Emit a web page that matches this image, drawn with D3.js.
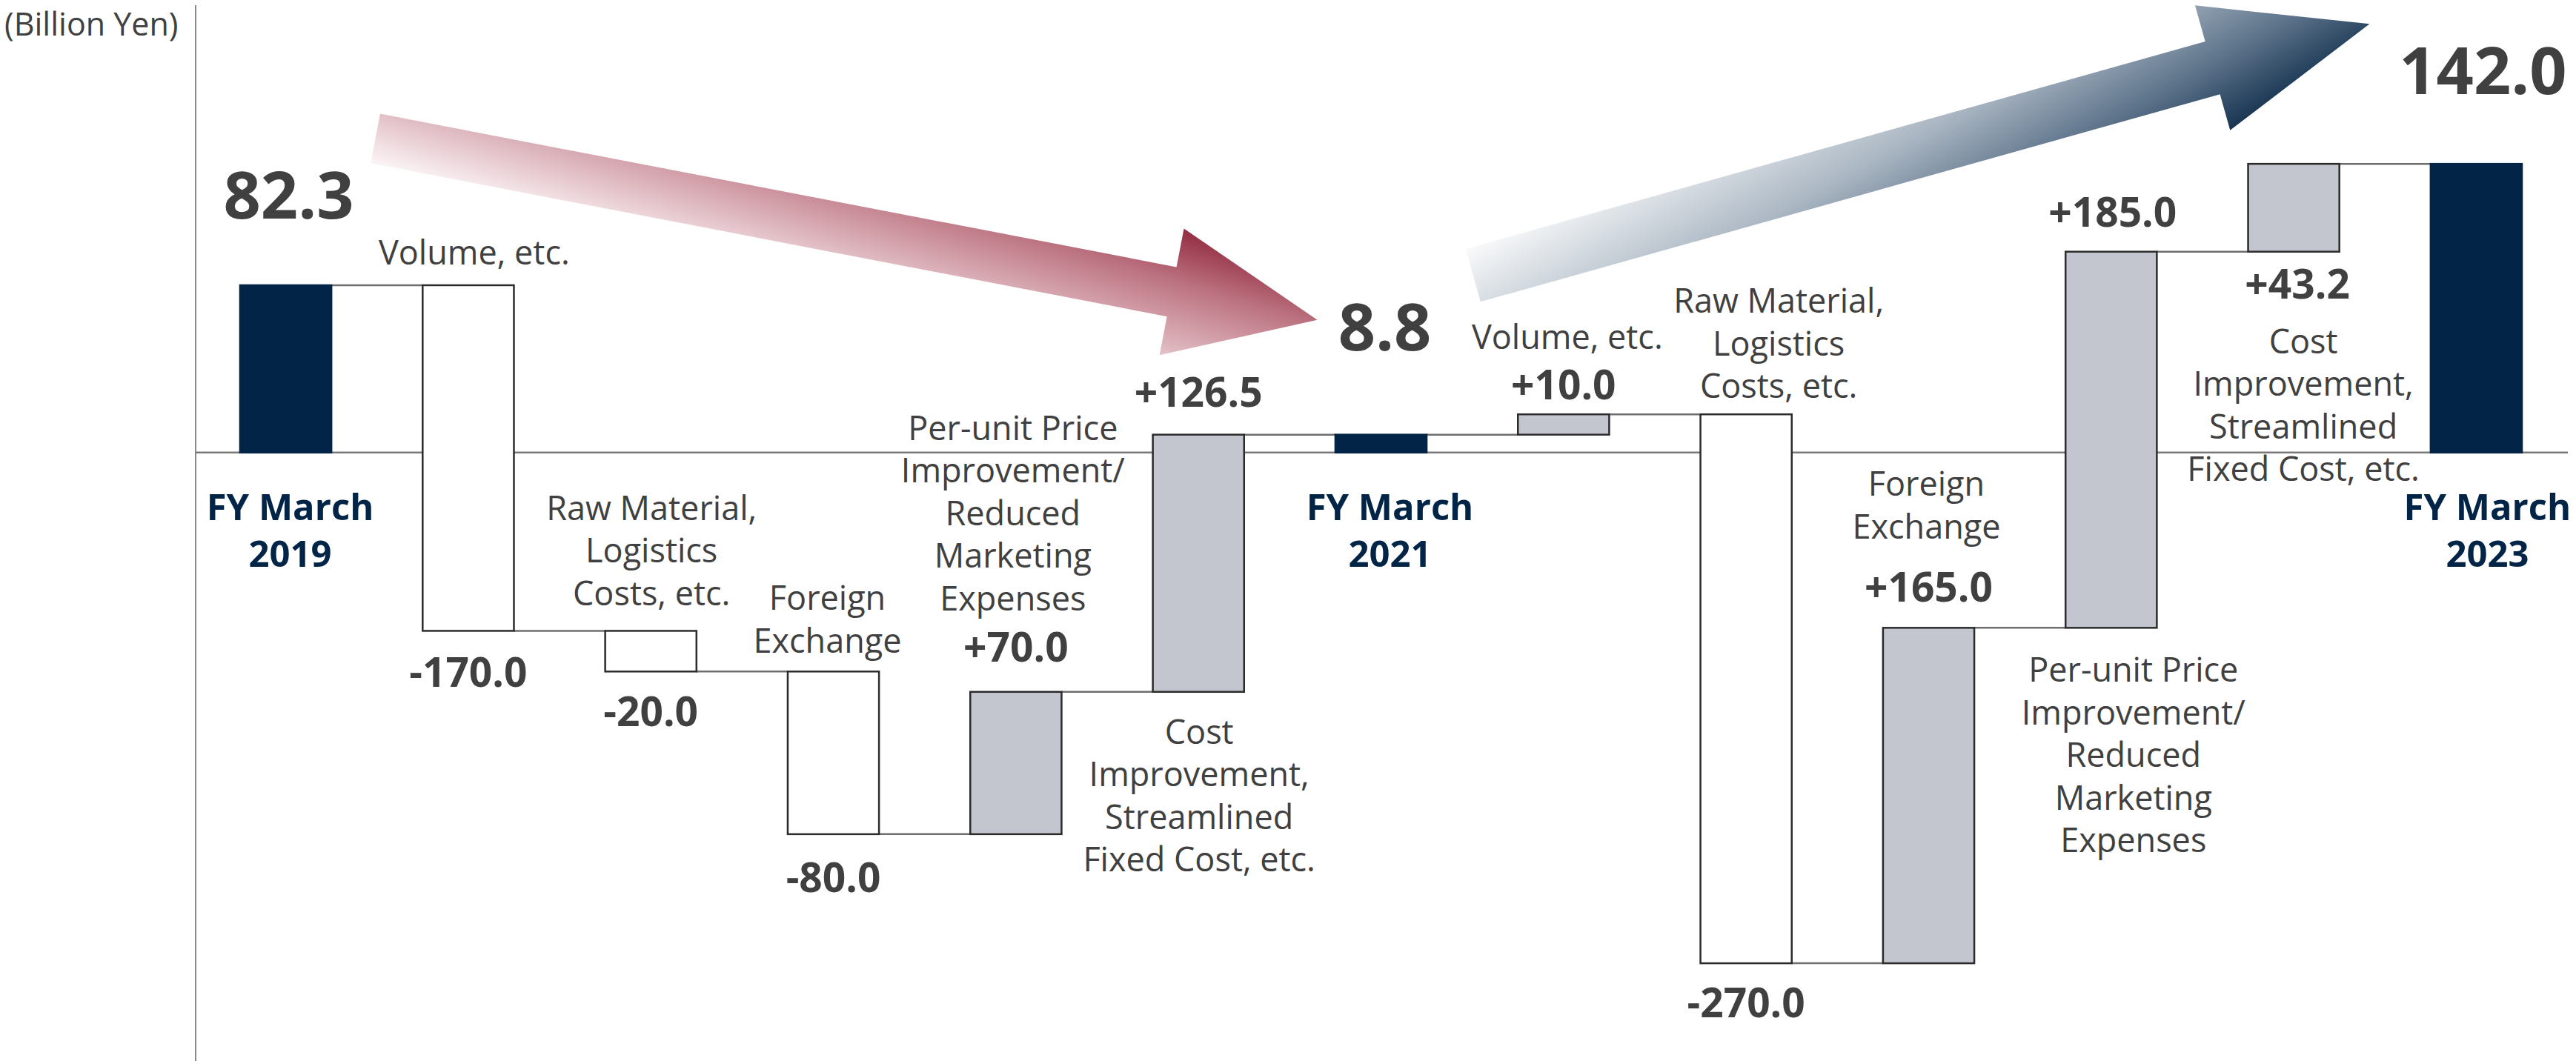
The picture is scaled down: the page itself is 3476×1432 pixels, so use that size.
<!DOCTYPE html>
<html>
<head>
<meta charset="utf-8">
<script src="https://cdn.jsdelivr.net/npm/d3@7"></script>
<style>
  body { margin: 0; background: #fff; }
  svg { display: block; font-family: "Open Sans", sans-serif; }
</style>
</head>
<body>
<div id="chart"></div>
<script>
// data
var steps = ["FY2019", "Volume1", "Raw1", "FX1", "Price1", "Cost1", "FY2021",
             "Volume2", "Raw2", "FX2", "Price2", "Cost2", "FY2023"];
var kinds = ["total", "delta", "delta", "delta", "delta", "delta", "total",
             "delta", "delta", "delta", "delta", "delta", "total"];
var values = [82.3, -170.0, -20.0, -80.0, 70.0, 126.5, 8.8,
              10.0, -270.0, 165.0, 185.0, 43.2, 142.0];
var nameLines = [
  ["FY March", "2019"],
  ["Volume, etc."],
  ["Raw Material,", "Logistics", "Costs, etc."],
  ["Foreign", "Exchange"],
  ["Per-unit Price", "Improvement/", "Reduced", "Marketing", "Expenses"],
  ["Cost", "Improvement,", "Streamlined", "Fixed Cost, etc."],
  ["FY March", "2021"],
  ["Volume, etc."],
  ["Raw Material,", "Logistics", "Costs, etc."],
  ["Foreign", "Exchange"],
  ["Per-unit Price", "Improvement/", "Reduced", "Marketing", "Expenses"],
  ["Cost", "Improvement,", "Streamlined", "Fixed Cost, etc."],
  ["FY March", "2023"]
];
var unitLabel = "(Billion Yen)";

// label layout: reference edge of the bar, offset to first baseline, x shift
var valueLayout = [
  ["top", -90, 4], ["bottom", 76, 0], ["bottom", 74, 0], ["bottom", 78, 0],
  ["top", -41, 0], ["top", -38, 0], ["top", -114, 5], ["top", -20, 0],
  ["bottom", 73, 0], ["top", -35, 0], ["top", -34, 2], ["bottom", 63, 5],
  ["top", -94, 9]
];
var nameLayout = [
  ["zero", 91, 6], ["top", -28, 8], ["top", -149.5, 1], ["top", -83, -8],
  ["top", -340, -4], ["bottom", 70, 1], ["zero", 91, 12], ["top", -88, 5],
  ["top", -137, 44], ["top", -178, -3], ["bottom", 73, 30], ["bottom", 137, 13],
  ["zero", 91, 15]
];

var width = 3476, height = 1432;
var navy = "#022446", gray = "#c3c6cf", ink = "#404040";

var svg = d3.select("#chart").append("svg")
  .attr("width", width)
  .attr("height", height);

// running totals
var rows = [];
var run = 0;
values.forEach(function(v, i) {
  var start, end;
  if (kinds[i] == "total") { start = 0; end = v; }
  else { start = run; end = run + v; }
  run = end;
  rows.push({ i: i, kind: kinds[i], value: v, start: start, end: end });
});

var x = d3.scaleBand()
  .domain(d3.range(steps.length))
  .range([264, 3463])
  .paddingInner(0.5)
  .paddingOuter(0.2435);

var y = d3.scaleLinear()
  .domain([-300, 200])
  .range([1434, 62]);

var bw = x.bandwidth();
function cx(i) { return x(i) + bw / 2; }

// gradients for the two arrows
var defs = svg.append("defs");

function arrowPoints(tail, tip, bodyW, headW, headL) {
  var dx = tip[0] - tail[0], dy = tip[1] - tail[1], len = Math.hypot(dx, dy);
  var ux = dx / len, uy = dy / len, px = -uy, py = ux;
  var nx = tip[0] - ux * headL, ny = tip[1] - uy * headL;
  return [
    [tail[0] + px * bodyW / 2, tail[1] + py * bodyW / 2],
    [nx + px * bodyW / 2, ny + py * bodyW / 2],
    [nx + px * headW / 2, ny + py * headW / 2],
    tip,
    [nx - px * headW / 2, ny - py * headW / 2],
    [nx - px * bodyW / 2, ny - py * bodyW / 2],
    [tail[0] - px * bodyW / 2, tail[1] - py * bodyW / 2]
  ];
}

function addGradient(id, start, dir, len, stops) {
  var g = defs.append("linearGradient")
    .attr("id", id)
    .attr("gradientUnits", "userSpaceOnUse")
    .attr("x1", start[0]).attr("y1", start[1])
    .attr("x2", start[0] + dir[0] * len).attr("y2", start[1] + dir[1] * len);
  stops.forEach(function(s) {
    g.append("stop").attr("offset", s[0]).attr("stop-color", s[1]);
  });
}

var redPts = arrowPoints(
  [cx(0) + 121, y(rows[0].end) - 198],
  [cx(6) - 86, y(rows[6].end) - 155], 68, 174, 200);
var bluePts = arrowPoints(
  [cx(7) - 122, y(rows[6].end) - 215],
  [cx(12) - 144, y(rows[12].end) - 189], 74, 175, 220);

addGradient("redGrad", redPts[0], [0.294, -0.956], 240,
  [[0, "#fbf5f6"], [0.35, "#dcb3bb"], [0.7, "#bb717f"], [1, "#922a40"]]);
addGradient("blueGrad", bluePts[6], [0.5, 0.866], 378,
  [[0, "#f9fafb"], [0.45, "#abb7c3"], [0.75, "#5f758c"], [1, "#173451"]]);

svg.append("path")
  .attr("d", d3.line()(redPts) + "Z")
  .attr("fill", "url(#redGrad)");
svg.append("path")
  .attr("d", d3.line()(bluePts) + "Z")
  .attr("fill", "url(#blueGrad)");

// axis lines
svg.append("line")
  .attr("x1", 264).attr("x2", 264)
  .attr("y1", 7).attr("y2", height)
  .attr("stroke", "#8a8a8a").attr("stroke-width", 2);

svg.append("line")
  .attr("x1", 264).attr("x2", 3465)
  .attr("y1", y(0)).attr("y2", y(0))
  .attr("stroke", "#7a7a7a").attr("stroke-width", 2.5);

// connectors
svg.selectAll(".conn")
  .data(rows.slice(0, -1))
  .enter()
  .append("line")
  .attr("class", "conn")
  .attr("x1", function(d) { return x(d.i) + bw; })
  .attr("x2", function(d) { return x(d.i + 1); })
  .attr("y1", function(d) { return y(d.end); })
  .attr("y2", function(d) { return y(d.end); })
  .attr("stroke", "#6e6e6e")
  .attr("stroke-width", 2.5);

// bars
svg.selectAll(".bar")
  .data(rows)
  .enter()
  .append("rect")
  .attr("class", "bar")
  .attr("x", function(d) { return x(d.i); })
  .attr("width", bw)
  .attr("y", function(d) { return y(Math.max(d.start, d.end)); })
  .attr("height", function(d) { return Math.abs(y(d.start) - y(d.end)); })
  .attr("fill", function(d) {
    if (d.kind == "total") return navy;
    return d.value < 0 ? "#ffffff" : gray;
  })
  .attr("stroke", function(d) { return d.kind == "total" ? navy : "#2b2b2b"; })
  .attr("stroke-width", 2.5);

function refY(d, ref) {
  if (ref == "zero") return y(0);
  if (ref == "top") return y(Math.max(d.start, d.end));
  return y(Math.min(d.start, d.end));
}

// value labels, plain hyphen for minus like the original
function fmt(v) { return d3.format(".1f")(Math.abs(v)); }
svg.selectAll(".val")
  .data(rows)
  .enter()
  .append("text")
  .attr("class", "val")
  .attr("text-anchor", "middle")
  .attr("x", function(d) { return cx(d.i) + valueLayout[d.i][2]; })
  .attr("y", function(d) { return refY(d, valueLayout[d.i][0]) + valueLayout[d.i][1]; })
  .attr("fill", ink)
  .attr("font-weight", 700)
  .attr("font-size", function(d) { return d.kind == "total" ? 88 : 55; })
  .text(function(d) {
    if (d.kind == "total") return fmt(d.value);
    return (d.value > 0 ? "+" : "-") + fmt(d.value);
  });

// category names
var names = svg.selectAll(".name")
  .data(rows)
  .enter()
  .append("text")
  .attr("class", "name")
  .attr("text-anchor", "middle")
  .attr("fill", function(d) { return d.kind == "total" ? navy : ink; })
  .attr("font-weight", function(d) { return d.kind == "total" ? 700 : 400; })
  .attr("font-size", function(d) { return d.kind == "total" ? 49 : 45; });

names.each(function(d) {
  var lay = nameLayout[d.i];
  var lh = d.kind == "total" ? 63 : 57.5;
  var y0 = refY(d, lay[0]) + lay[1];
  d3.select(this).selectAll("tspan")
    .data(nameLines[d.i])
    .enter()
    .append("tspan")
    .attr("x", cx(d.i) + lay[2])
    .attr("y", function(t, k) { return y0 + k * lh; })
    .text(function(t) { return t; });
});

svg.append("text")
  .attr("x", 6)
  .attr("y", 48)
  .attr("fill", ink)
  .attr("font-size", 43)
  .text(unitLabel);
</script>
</body>
</html>
